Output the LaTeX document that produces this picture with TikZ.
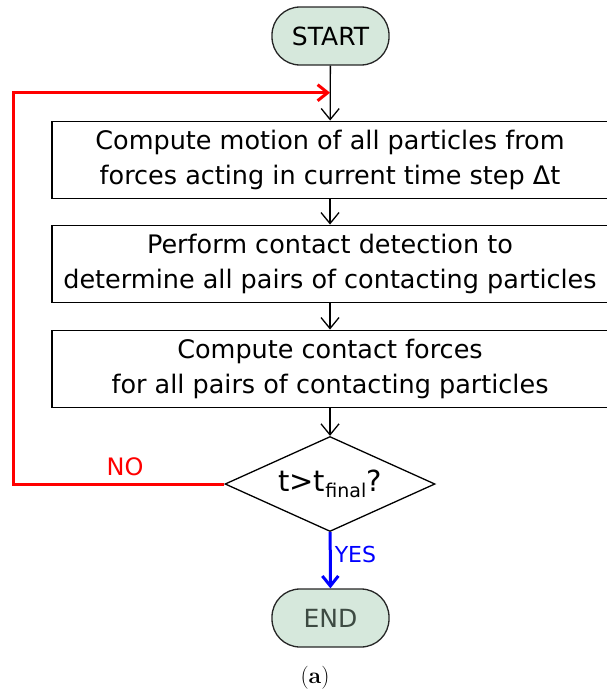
\documentclass[tikz,border=0pt]{standalone}
\usepackage{fontspec}
\newfontfamily\dejavu{DejaVu Sans}
\usetikzlibrary{shapes.geometric, arrows.meta, positioning}
\definecolor{termfill}{HTML}{D6E8DC}
\definecolor{endtext}{HTML}{3D4A42}
\definecolor{loopred}{HTML}{FF0000}
\definecolor{yesblue}{HTML}{0000FF}
\tikzset{
  term/.style={draw=black!85, line width=1.3pt, fill=termfill, rounded corners=28pt,
    minimum width=117pt, minimum height=58pt, inner sep=0pt,
    font=\dejavu\fontsize{25}{30}\selectfont},
  stepbox/.style={draw, line width=1.9pt, minimum width=556pt, minimum height=77pt,
    align=center, inner sep=0pt, font=\dejavu\fontsize{25.5}{35}\selectfont},
  decide/.style={draw, diamond, line width=1.3pt, shape aspect=2.2, minimum width=210pt,
    minimum height=95pt, inner sep=0pt, font=\dejavu\fontsize{29}{30}\selectfont},
  flow/.style={line width=1.3pt, -{Straight Barb[length=11pt,width=18pt,line width=1.3pt]}},
  no/.style={loopred, line width=3pt, -{Straight Barb[length=10pt,width=16pt,line width=3pt]}},
  yes/.style={yesblue, line width=3pt, -{Straight Barb[length=10pt,width=16pt,line width=3pt]}}
}
\begin{document}
\begin{tikzpicture}[x=1pt, y=-1pt]
		\useasboundingbox (0,0) rectangle (607,696);
		% Terminals
		\node[term] (start) at (330.5,36) {START};
		\node[term, text=endtext] (end) at (330.5,618) {END};

		% Steps
		\node[stepbox] (motion) at (330,160) {Compute motion of all particles from\\forces acting in current time step Δt};
		\node[stepbox] (detect) at (330,264) {Perform contact detection to\\determine all pairs of contacting particles};
		\node[stepbox] (forces) at (330,369) {Compute contact forces\\for all pairs of contacting particles};

		% Decision
		\node[decide] (dec) at (330,484) {t>t{\raisebox{-0.35ex}{\fontsize{19}{20}\selectfont final}}?};

		% Arrows
		\coordinate (merge) at (330,92.7);
		\coordinate (loopcorner) at (13,484);
		\draw[flow] (start) -- (motion);
		\draw[flow] (motion) -- (detect);
		\draw[flow] (detect) -- (forces);
		\draw[flow] (forces) -- (dec);
		\draw[no] (dec.west) -- node[above=3pt, pos=0.47, font=\dejavu\fontsize{24}{30}\selectfont] {NO} (loopcorner) |- (merge);
		\draw[yes] (dec) -- node[anchor=west, pos=0.4, inner sep=3pt, font=\dejavu\fontsize{22}{26}\selectfont] {YES} (end);

		% Caption
		\node[font=\fontsize{23}{27}\selectfont] (cap) at (315,677.5) {(\textbf{a})};
	\end{tikzpicture}
\end{document}
